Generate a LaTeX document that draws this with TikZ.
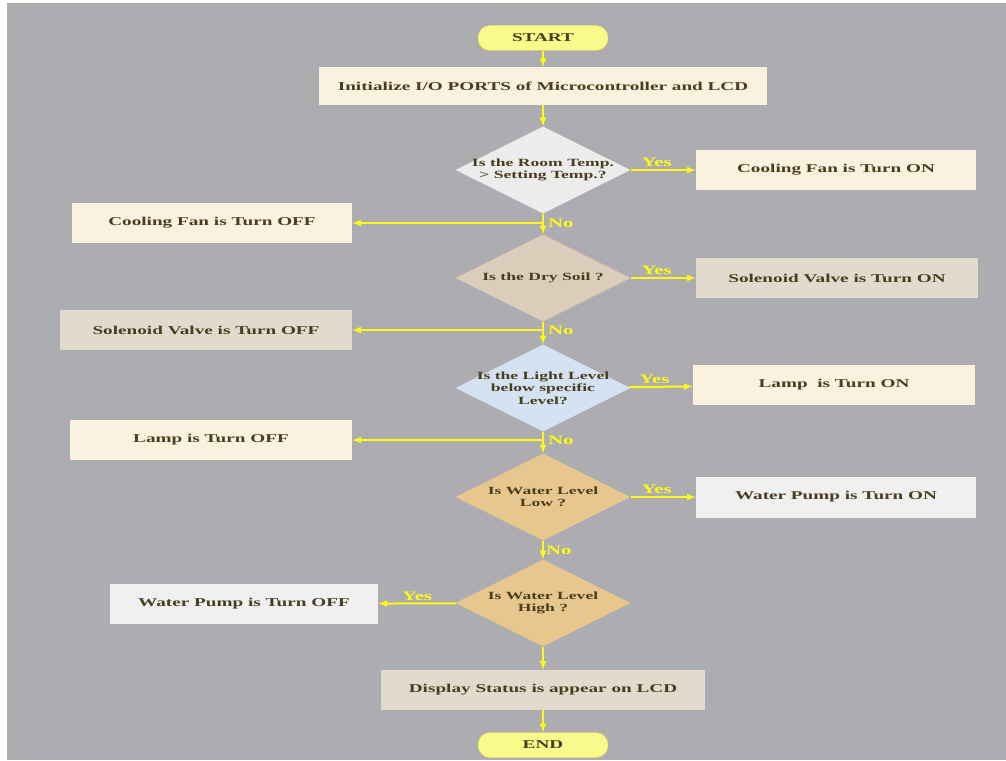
\documentclass[tikz,border=0pt]{standalone}
\usepackage{fontspec}
\setmainfont{Liberation Serif}[FakeStretch=1.6]
\usetikzlibrary{shapes.geometric,positioning}

\definecolor{bggray}{RGB}{172,172,177}
\definecolor{inkbrown}{RGB}{72,62,30}
\definecolor{flowyellow}{RGB}{255,250,20}
\definecolor{termyellow}{RGB}{250,250,140}
\definecolor{termedge}{RGB}{225,225,70}
\definecolor{cream}{RGB}{251,241,223}
\definecolor{stone}{RGB}{226,218,204}
\definecolor{paper}{RGB}{240,240,240}
\definecolor{mist}{RGB}{236,236,236}
\definecolor{sand}{RGB}{218,205,185}
\definecolor{sky}{RGB}{212,226,242}
\definecolor{ochre}{RGB}{232,199,142}

\begin{document}
\begin{tikzpicture}[x=1pt, y=-1pt,
    every node/.style = {font=\bfseries\fontsize{12}{12}\selectfont, text=inkbrown, align=center},
    box/.style        = {rectangle, minimum width=280pt, minimum height=40pt},
    choice/.style     = {diamond, inner sep=-20pt, minimum width=175pt, minimum height=87pt,
                         font=\bfseries\fontsize{11}{12.5}\selectfont},
    terminal/.style   = {rectangle, rounded corners=12pt, fill=termyellow, draw=termedge,
                         minimum width=130pt, minimum height=25pt},
    flow/.style       = {draw=flowyellow, line width=2pt, -latex},
    answer/.style     = {text=flowyellow, font=\bfseries\fontsize{13}{13}\selectfont, inner sep=2pt}
  ]
  \useasboundingbox (0,0) rectangle (1006,760);
  \fill[bggray] (7,3) rectangle (1006,760);

  \node (start)    [terminal]                       at (543,38)  {START};
  \node (init)     [box, fill=cream, minimum width=448pt, minimum height=37pt]
                                                    at (543,86)  {Initialize I/O PORTS of Microcontroller and LCD};

  \node (roomtemp)  [choice, fill=mist]  at (543,170) {Is the Room Temp.\\> Setting Temp.?};
  \node (fanon)     [box, fill=cream]    at (836,170) {Cooling Fan is Turn ON};
  \node (fanoff)    [box, fill=cream]    at (212,223) {Cooling Fan is Turn OFF};

  \node (drysoil)   [choice, fill=sand]  at (543,278) {Is the Dry Soil ?};
  \node (valveon)   [box, fill=stone, minimum width=282pt] at (837,278) {Solenoid Valve is Turn ON};
  \node (valveoff)  [box, fill=stone, minimum width=292pt] at (206,330) {Solenoid Valve is Turn OFF};

  \node (light)     [choice, fill=sky]   at (543,388) {Is the Light Level\\below specific\\Level?};
  \node (lampon)    [box, fill=cream, minimum width=282pt] at (834,385) {Lamp\ \ is Turn ON};
  \node (lampoff)   [box, fill=cream, minimum width=282pt] at (211,440) {Lamp is Turn OFF};

  \node (waterlow)  [choice, fill=ochre] at (543,497) {Is Water Level\\Low ?};
  \node (pumpon)    [box, fill=paper, minimum height=41pt] at (836,497) {Water Pump is Turn ON};

  \node (waterhigh) [choice, fill=ochre] at (543,603) {Is Water Level\\High ?};
  \node (pumpoff)   [box, fill=paper, minimum width=268pt] at (244,604) {Water Pump is Turn OFF};

  \node (display)  [box, fill=stone, minimum width=324pt] at (543,690) {Display Status is appear on LCD};
  \node (end)      [terminal]                             at (543,745) {END};

  % junctions of the No branches
  \coordinate (nofan)   at (roomtemp.south |- fanoff);
  \coordinate (novalve) at (drysoil.south |- valveoff);
  \coordinate (nolamp)  at (light.south |- lampoff);

  \draw[flow] (start)     to (init);
  \draw[flow] (init)      to (roomtemp);
  \draw[flow] (roomtemp)  to node (yestemp) [answer, above, pos=0.4] {Yes} (fanon);
  \draw[flow] (roomtemp)  to (drysoil);
  \draw[flow] (nofan)     to (fanoff);
  \draw[flow] (drysoil)   to node (yessoil) [answer, above, pos=0.4] {Yes} (valveon);
  \draw[flow] (drysoil)   to (light);
  \draw[flow] (novalve)   to (valveoff);
  \draw[flow] (light)     to node (yeslight) [answer, above, pos=0.4] {Yes} (lampon);
  \draw[flow] (light)     to (waterlow);
  \draw[flow] (nolamp)    to (lampoff);
  \draw[flow] (waterlow)  to node (yeslow) [answer, above, pos=0.4] {Yes} (pumpon);
  \draw[flow] (waterlow)  to node (nolow) [answer, right] {No} (waterhigh);
  \draw[flow] (waterhigh) to node (yeshigh) [answer, above] {Yes} (pumpoff);
  \draw[flow] (waterhigh) to (display);
  \draw[flow] (display)   to (end);

  \node (notemp)  [answer, right=3pt of nofan]   {No};
  \node (nosoil)  [answer, right=3pt of novalve] {No};
  \node (nolight) [answer, right=3pt of nolamp]  {No};
\end{tikzpicture}
\end{document}
